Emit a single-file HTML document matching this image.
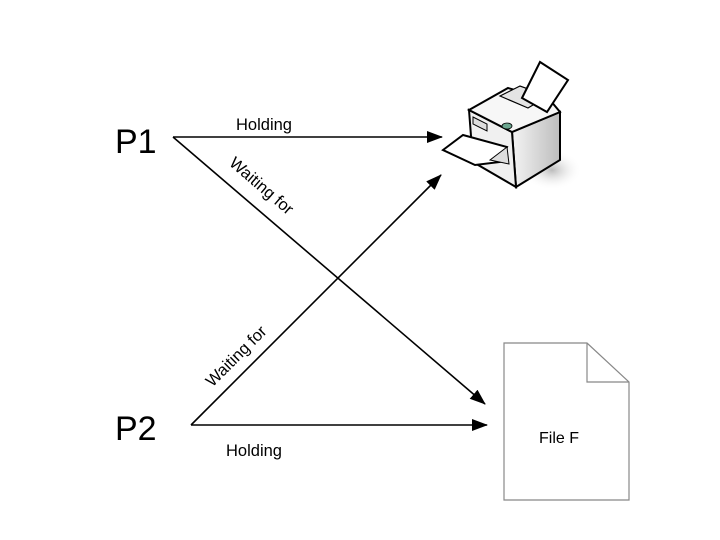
<!DOCTYPE html>
<html><head><meta charset="utf-8"><style>
html,body{margin:0;padding:0;background:#fff;}
svg{display:block;font-family:"Liberation Sans",Arial,sans-serif;}
</style></head><body>
<svg width="720" height="540" viewBox="0 0 720 540" xmlns="http://www.w3.org/2000/svg">
<defs>
<marker id="ah" markerWidth="16" markerHeight="12" refX="15" refY="6" orient="auto" markerUnits="userSpaceOnUse" viewBox="0 0 16 12">
<path d="M0,0 L16,6 L0,12 z" fill="#000"/>
</marker>
<linearGradient id="sideg" x1="0" y1="0" x2="1" y2="0"><stop offset="0" stop-color="#f4f4f4"/><stop offset="1" stop-color="#bdbdbd"/></linearGradient>
<radialGradient id="shg"><stop offset="0" stop-color="#bbb"/><stop offset="1" stop-color="#fff" stop-opacity="0"/></radialGradient>
</defs>
<text x="115" y="153" font-size="34">P1</text>
<text x="115" y="440" font-size="34">P2</text>
<line x1="173" y1="137" x2="442" y2="137" stroke="#000" stroke-width="1.6" marker-end="url(#ah)"/>
<line x1="173" y1="137" x2="485" y2="404" stroke="#000" stroke-width="1.6" marker-end="url(#ah)"/>
<line x1="191" y1="425" x2="487" y2="425" stroke="#000" stroke-width="1.6" marker-end="url(#ah)"/>
<line x1="191" y1="425" x2="441" y2="175" stroke="#000" stroke-width="1.6" marker-end="url(#ah)"/>
<text x="264" y="130" font-size="16.5" text-anchor="middle">Holding</text>
<text x="254" y="456" font-size="16.5" text-anchor="middle">Holding</text>
<text transform="translate(258,190) rotate(40.6)" font-size="16.5" text-anchor="middle">Waiting for</text>
<text transform="translate(240,360) rotate(-45)" font-size="16.5" text-anchor="middle">Waiting for</text>
<polygon points="504,343 587,343 629,382 629,500 504,500" fill="#fff" stroke="#888" stroke-width="1.2"/>
<polyline points="587,343 587,382 629,382" fill="none" stroke="#888" stroke-width="1.2"/>
<text x="559" y="443" font-size="16" text-anchor="middle">File F</text>
<!-- printer -->
<ellipse cx="552" cy="170" rx="30" ry="20" fill="url(#shg)"/>
<polygon points="560,112 560,160 516,187 512,132" fill="url(#sideg)" stroke="#000" stroke-width="2"/>
<polygon points="469,110 512,132 516,187 473,162" fill="#f0f0f0" stroke="#000" stroke-width="2"/>
<polygon points="469,110 508,88 550,100 560,112 512,132" fill="#f7f7f7" stroke="#000" stroke-width="2"/>
<polygon points="500,96 520,86 548,96 528,108" fill="#e4e4e4" stroke="#000" stroke-width="1.2"/>
<polygon points="522,98 540,62 568,80 547,112" fill="#fff" stroke="#000" stroke-width="2"/>
<polygon points="473,117 487,124 487,131 473,124" fill="#ddd" stroke="#000" stroke-width="1"/>
<ellipse cx="507" cy="126" rx="5" ry="3" fill="#6aa58e" stroke="#000" stroke-width="0.8"/>
<polygon points="443,150 463,135 507,147 500,162 475,165" fill="#fff" stroke="#000" stroke-width="2"/>
<polygon points="490,160 507,147 509,164" fill="#ddd" stroke="#000" stroke-width="1"/>
</svg>
</body></html>
